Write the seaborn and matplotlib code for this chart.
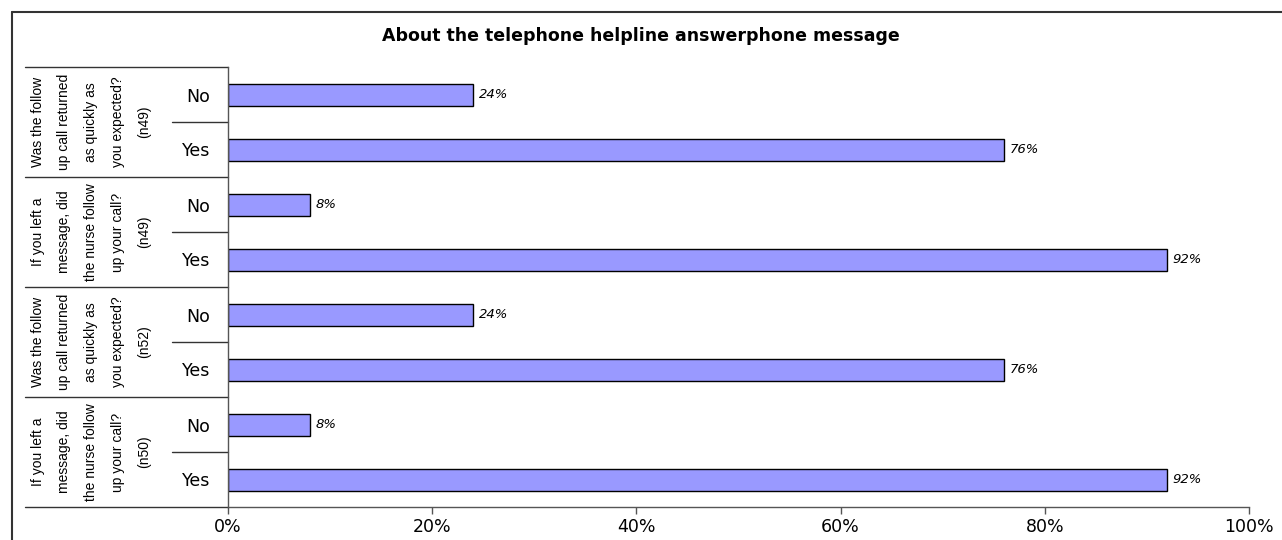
import matplotlib.pyplot as plt
import matplotlib.transforms as mtransforms
import pandas as pd
import seaborn as sns

# chart data
questions = [
    "Was the follow\nup call returned\nas quickly as\nyou expected?\n(n49)",
    "If you left a\nmessage, did\nthe nurse follow\nup your call?\n(n49)",
    "Was the follow\nup call returned\nas quickly as\nyou expected?\n(n52)",
    "If you left a\nmessage, did\nthe nurse follow\nup your call?\n(n50)",
]
answers = ["No", "Yes"]
no_values = [24, 8, 24, 8]
yes_values = [76, 92, 76, 92]
x_ticks = [0, 20, 40, 60, 80, 100]

rows = []
for i, q in enumerate(questions):
    rows.append({"row": f"{i}-No", "question": q, "answer": "No", "pct": no_values[i]})
    rows.append({"row": f"{i}-Yes", "question": q, "answer": "Yes", "pct": yes_values[i]})
df = pd.DataFrame(rows)

sns.set_theme(style="white", rc={"text.color": "black", "xtick.color": "black",
                                 "ytick.color": "black"})
plt.rcParams["font.family"] = ["DejaVu Sans"]

fig = plt.figure(figsize=(12.82, 5.4), dpi=100)
ax = fig.add_axes([228 / 1282, 1 - 507 / 540, (1249 - 228) / 1282, (507 - 67) / 540])

sns.barplot(data=df, y="row", x="pct", orient="h", color="#9999FF",
            saturation=1, width=0.4, edgecolor="black", linewidth=1, ax=ax)

for c in ax.containers:
    ax.bar_label(c, labels=[f"{v}%" for v in df["pct"]], padding=4,
                 fontsize=9.5, fontstyle="italic", color="black")

ax.set_xlim(0, 100)
ax.set_ylim(len(df) - 0.5, -0.5)
ax.set_xticks(x_ticks)
ax.set_xticklabels([f"{t}%" for t in x_ticks], fontsize=12.5)
ax.set_yticks(range(len(df)))
ax.set_yticklabels(df["answer"], fontsize=12.5)
ax.tick_params(axis="y", left=False, pad=7)
ax.tick_params(axis="x", bottom=True, direction="out", length=5, width=1,
               color="#555555", pad=3)
ax.set_xlabel("")
ax.set_ylabel("")
sns.despine(ax=ax, top=True, right=True)
for s in ["left", "bottom"]:
    ax.spines[s].set_color("#555555")
    ax.spines[s].set_linewidth(1)

# category grouping lines and question labels on the left
trans = mtransforms.blended_transform_factory(ax.transAxes, ax.transData)
x_group = (25 - 228) / 1021
x_sub = (172 - 228) / 1021
for i, q in enumerate(questions):
    top = 2 * i - 0.5
    ax.plot([x_group, 0], [top, top], color="#333333", lw=1, transform=trans, clip_on=False)
    ax.plot([x_sub, 0], [top + 1, top + 1], color="#333333", lw=1, transform=trans, clip_on=False)
    ax.text((91 - 228) / 1021, 2 * i + 0.5, q, rotation=90, ha="center", va="center",
            multialignment="center", fontsize=10, linespacing=2.15,
            family="Liberation Sans", transform=trans, clip_on=False)
last = 2 * len(questions) - 0.5
ax.plot([x_group, 0], [last, last], color="#333333", lw=1, transform=trans, clip_on=False)

fig.text(0.5, 1 - 36 / 540, "About the telephone helpline answerphone message",
         ha="center", va="center", fontsize=12.5, fontweight="bold")

# outer frame (left and top edges visible)
fx = 12 / 1282
fy = 1 - 12 / 540
fig.add_artist(plt.Line2D([fx, fx], [0, fy], color="#333333", lw=1.5, transform=fig.transFigure))
fig.add_artist(plt.Line2D([fx, 1], [fy, fy], color="#333333", lw=1.5, transform=fig.transFigure))

fig.savefig("out.png", dpi=100)
